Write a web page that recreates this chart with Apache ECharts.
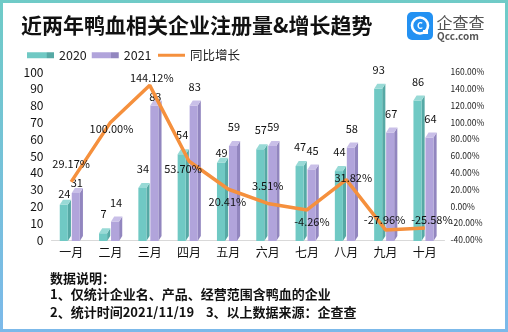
<!DOCTYPE html>
<html><head><meta charset="utf-8">
<script src="https://cdn.jsdelivr.net/npm/echarts@6/dist/echarts.min.js"></script>
<style>html,body{margin:0;padding:0;background:#fff}#c{width:508px;height:332px}</style>
</head><body><div id="c"></div>
<script>
const categories = ['一月','二月','三月','四月','五月','六月','七月','八月','九月','十月'];
const values2020 = [24, 7, 34, 54, 49, 57, 47, 44, 93, 86];
const values2021 = [31, 14, 83, 83, 59, 59, 45, 58, 67, 64];
const growth = [29.17, 100.00, 144.12, 53.70, 20.41, 3.51, -4.26, 31.82, -27.96, -25.58];
const leftTicks = {min: 0, max: 100, interval: 10};
const rightTicks = {min: -40, max: 160, interval: 20};

const FONT = '"Noto Sans CJK SC", "Noto Sans", sans-serif';
// label layout tweaks (pixels) for the growth line labels
const growthLabelOffsets = [[0,-18],[1,6],[2,-8],[-6,8],[-1,13],[0,-18],[5,12],[7,-2],[-1,-10],[7,-8]];
// bar label distance above the top (pixels), default 14
const barLabelLift = [{0:6, 4:5}, {0:5, 2:4}];

const palettes = [
  {front:'#70C9C4', top:'#98DAD6', side:'#56A9A5'},
  {front:'#B1A4DB', top:'#C9BFE8', side:'#9286BF'}
];

function makeRender(sIdx){
  return function(params, api){
    const ci = api.value(0), v = api.value(1);
    const p = api.coord([ci, v]);
    const p0 = api.coord([ci, 0]);
    const band = api.size([1,0])[0];
    const fw = band*0.205, dx = band*0.08, dy = 5;
    const c = p[0];
    const x0 = sIdx === 0 ? c - band*0.29 : c + band*0.015;
    const x1 = x0 + fw;
    const yt = p[1], yb = p0[1] + 1;
    const pal = palettes[sIdx];
    const lift = (barLabelLift[sIdx][params.dataIndex] !== undefined) ? barLabelLift[sIdx][params.dataIndex] : 14;
    return {type:'group', children:[
      {type:'polygon', shape:{points:[[x1,yt+dy],[x1+dx,yt],[x1+dx,yb-dy],[x1,yb]]}, style:{fill:pal.side}},
      {type:'rect', shape:{x:x0, y:yt+dy, width:fw, height:Math.max(0,yb-yt-dy)}, style:{fill:pal.front}},
      {type:'polygon', shape:{points:[[x0,yt+dy],[x0+dx,yt],[x1+dx,yt],[x1,yt+dy]]}, style:{fill:pal.top}},
      {type:'text', style:{text:String(v), x:x0+fw/2+(sIdx===0?0.5:1), y:yt-lift, align:'center', verticalAlign:'middle', fill:'#111', font:'11px '+FONT}}
    ]};
  };
}

const chart = echarts.init(document.getElementById('c'), null, {renderer:'canvas'});
chart.setOption({
  backgroundColor:'#fff',
  animation:false,
  textStyle:{fontFamily:FONT},
  title:{text:'近两年鸭血相关企业注册量&增长趋势', left:21, top:15, padding:0,
    textStyle:{fontSize:21, fontWeight:'bold', color:'#111', fontFamily:FONT}},
  legend:{left:22, top:44, itemWidth:27, itemHeight:6, itemGap:5,
    textStyle:{fontSize:12.5, color:'#222', fontFamily:FONT},
    data:[
      {name:'2020', icon:'rect', itemStyle:{color:new echarts.graphic.LinearGradient(0,0,1,0,[{offset:0,color:'#70C9C4'},{offset:0.72,color:'#70C9C4'},{offset:0.73,color:'#56A9A5'},{offset:1,color:'#56A9A5'}])}},
      {name:'2021', icon:'rect', itemStyle:{color:new echarts.graphic.LinearGradient(0,0,1,0,[{offset:0,color:'#B1A4DB'},{offset:0.72,color:'#B1A4DB'},{offset:0.73,color:'#9286BF'},{offset:1,color:'#9286BF'}])}},
      {name:'同比增长', itemStyle:{color:'rgba(0,0,0,0)', borderWidth:0, opacity:0}, lineStyle:{color:'#F5903D', width:3}}
    ]},
  grid:{left:51.5, right:63.5, top:72, bottom:92},
  xAxis:{type:'category', data:categories, boundaryGap:true,
    axisLine:{lineStyle:{color:'#d9d9d9', width:1}}, axisTick:{show:false},
    axisLabel:{color:'#111', fontSize:12, margin:6, fontFamily:FONT}},
  yAxis:[
    {type:'value', min:leftTicks.min, max:leftTicks.max, interval:leftTicks.interval,
      axisLine:{show:false}, axisTick:{show:false}, splitLine:{show:false},
      axisLabel:{color:'#111', fontSize:12, margin:8, fontFamily:FONT}},
    {type:'value', min:rightTicks.min, max:rightTicks.max, interval:rightTicks.interval,
      axisLine:{show:false}, axisTick:{show:false}, splitLine:{show:false},
      axisLabel:{color:'#222', fontSize:8.5, margin:6, fontFamily:FONT, formatter:v=>v.toFixed(2)+'%'}}
  ],
  series:[
    {name:'2020', type:'custom', renderItem:makeRender(0), itemStyle:{color:'#70C9C4'},
      encode:{x:0,y:1}, data:values2020.map((v,i)=>[i,v]), z:2},
    {name:'2021', type:'custom', renderItem:makeRender(1), itemStyle:{color:'#B1A4DB'},
      encode:{x:0,y:1}, data:values2021.map((v,i)=>[i,v]), z:2},
    {name:'同比增长', type:'line', yAxisIndex:1, symbol:'circle', symbolSize:0.1, showSymbol:true,
      itemStyle:{color:'#F5903D'}, lineStyle:{color:'#F5903D', width:3.5}, z:5,
      data:growth.map((v,i)=>({value:v, label:{show:true, position:'inside', offset:growthLabelOffsets[i],
        formatter:v.toFixed(2)+'%', color:'#111', fontSize:11, fontFamily:FONT}}))}
  ],
  graphic:[
    {type:'rect', shape:{x:1.5, y:1.5, width:505, height:329}, z:100,
      style:{fill:null, lineWidth:3, stroke:new echarts.graphic.LinearGradient(0,0,0,1,[{offset:0,color:'#6FCBC7'},{offset:1,color:'#7CB9EA'}])}},
    {type:'rect', shape:{x:407, y:12, width:26, height:28, r:5}, style:{fill:'#2391F2'}},
    {type:'circle', shape:{cx:420, cy:25.5, r:8}, style:{fill:null, stroke:'#fff', lineWidth:2.6}},
    {type:'rect', shape:{x:423, y:30, width:5, height:4}, style:{fill:'#fff'}},
    {type:'text', style:{text:'C', x:420, y:26, align:'center', verticalAlign:'middle', fill:'#fff', font:'bold 9px '+FONT}},
    {type:'text', style:{text:'企查查', x:436.5, y:23, verticalAlign:'middle', fill:'#555', font:'16px '+FONT}},
    {type:'text', style:{text:'Qcc.com', x:437, y:36.5, verticalAlign:'middle', fill:'#555', font:'bold 10px '+FONT}},
    {type:'text', style:{text:'数据说明：', x:50, y:278, verticalAlign:'middle', fill:'#111', font:'bold 13px '+FONT}},
    {type:'text', style:{text:'1、仅统计企业名、产品、经营范围含鸭血的企业', x:50, y:294.5, verticalAlign:'middle', fill:'#111', font:'bold 13px '+FONT}},
    {type:'text', style:{text:'2、统计时间2021/11/19    3、以上数据来源：企查查', x:50, y:312, verticalAlign:'middle', fill:'#111', font:'bold 13px '+FONT}}
  ]
});
</script></body></html>
